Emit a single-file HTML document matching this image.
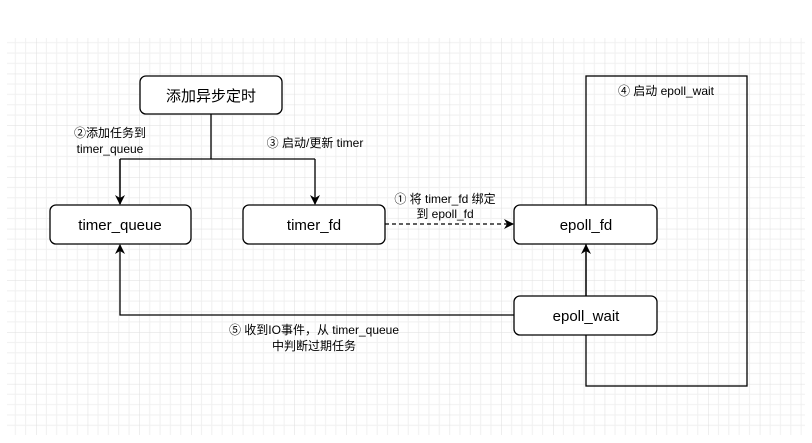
<!DOCTYPE html>
<html><head><meta charset="utf-8"><style>
body{margin:0;background:#fff;}
svg{display:block;}
text{font-family:"Liberation Sans","Noto Sans CJK SC",sans-serif;fill:#000;}
</style></head><body>
<svg width="812" height="443" xmlns="http://www.w3.org/2000/svg">
<defs>
<pattern id="g" x="36" y="22" width="51.7" height="51.7" patternUnits="userSpaceOnUse">
<path d="M10.34 0V51.7M20.68 0V51.7M31.02 0V51.7M41.36 0V51.7M0 10.34H51.7M0 20.68H51.7M0 31.02H51.7M0 41.36H51.7" stroke="#f0f0f0" stroke-width="1" fill="none"/>
<path d="M0 0V51.7M0 0H51.7" stroke="#dedede" stroke-width="1" fill="none"/>
</pattern>
<marker id="a" markerWidth="10" markerHeight="10" refX="9" refY="5" orient="auto" markerUnits="userSpaceOnUse"><path d="M0 0L10 5L0 10L3 5Z" fill="#000"/></marker>
</defs>
<rect x="7" y="38" width="798" height="397" fill="url(#g)"/>
<g fill="none" stroke="#000" stroke-width="1.3">
<rect x="586" y="76" width="161" height="310" fill="none"/>
<path d="M211 114V159M120 159H315M120 159V204M315 159V204" marker-end="url(#a)"/>
<path d="M120 159V204" marker-end="url(#a)"/>
<path d="M385 224H513" stroke-dasharray="4,3" marker-end="url(#a)"/>
<path d="M514 315H120V245" marker-end="url(#a)"/>
<path d="M586 296V245" marker-end="url(#a)"/>
<rect x="140" y="76" width="142" height="38" rx="6" fill="#fff"/>
<rect x="50" y="205" width="141" height="39" rx="6" fill="#fff"/>
<rect x="243" y="205" width="142" height="39" rx="6" fill="#fff"/>
<rect x="514" y="205" width="143" height="39" rx="6" fill="#fff"/>
<rect x="514" y="296" width="143" height="39" rx="6" fill="#fff"/>
</g>
<g font-size="15" text-anchor="middle">
<text x="211" y="101">添加异步定时</text>
<text x="120" y="230">timer_queue</text>
<text x="314" y="230">timer_fd</text>
<text x="586" y="230">epoll_fd</text>
<text x="586" y="321">epoll_wait</text>
</g>
<g font-size="12" text-anchor="middle">
<text x="110" y="137">②添加任务到</text>
<text x="110" y="153">timer_queue</text>
<text x="315" y="147">③ 启动/更新 timer</text>
<text x="445" y="203">① 将 timer_fd 绑定</text>
<text x="445" y="218">到 epoll_fd</text>
<text x="666" y="95">④ 启动 epoll_wait</text>
<text x="314" y="334">⑤ 收到IO事件，从 timer_queue</text>
<text x="314" y="350">中判断过期任务</text>
</g>
</svg>
</body></html>
